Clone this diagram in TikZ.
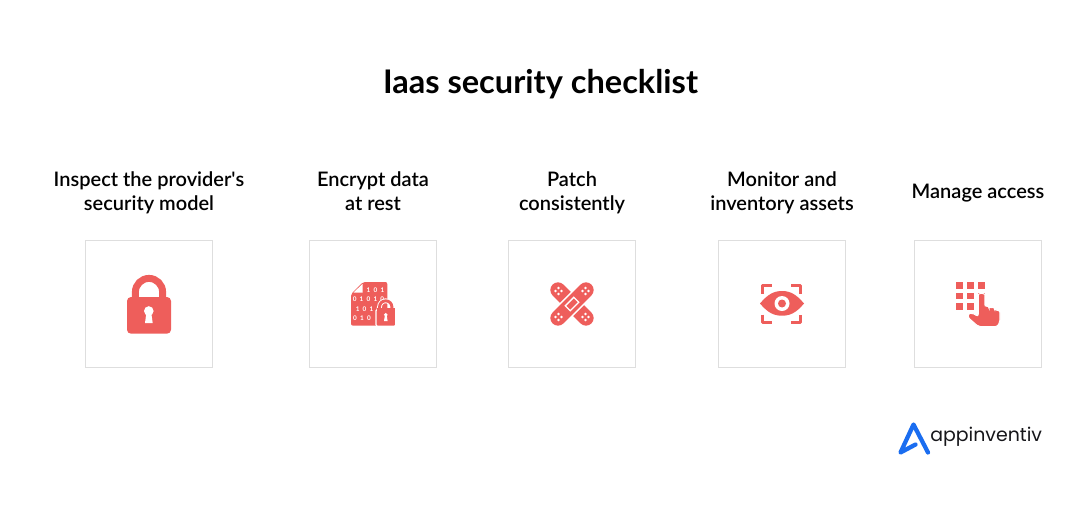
\documentclass[tikz,border=0pt]{standalone}
\usepackage{fontspec}
\setmainfont{Lato}
\newfontfamily\labelfont{Lato Semibold}
\newfontfamily\logofont{Poppins}
\definecolor{iconred}{HTML}{EE5E5B}
\definecolor{boxgray}{HTML}{DEDEDE}
\definecolor{logoblue}{HTML}{1A6DF0}
\definecolor{logoink}{HTML}{16161A}
\tikzset{
  itembox/.style={draw=boxgray,line width=0.75pt,minimum size=95.25pt,inner sep=0pt},
  itemlabel/.style={align=center,font=\labelfont\fontsize{15}{18}\selectfont,text=black,inner sep=0pt},
  bit/.style={text=white,font=\fontsize{4.8}{5}\selectfont\bfseries,inner sep=0pt},
  pad/.style={line width=11.5pt,line cap=round},
}
\newcommand{\paddots}[2]{%
  \fill[white] (#1-3,#2) circle (1.3) (#1+3,#2) circle (1.3)
    (#1,#2-3) circle (1.3) (#1,#2+3) circle (1.3);}
\begin{document}
\begin{tikzpicture}[x=0.75pt,y=-0.75pt]
  \useasboundingbox (0,0) rectangle (1080,514);
  \node[font=\fontsize{24.4}{28}\selectfont\bfseries] (title) at (540.5,84.5) {Iaas security checklist};
  % boxes
  \node[itembox] (box1) at (149,304) {};
  \node[itembox] (box2) at (373,304) {};
  \node[itembox] (box3) at (572,304) {};
  \node[itembox] (box4) at (782,304) {};
  \node[itembox] (box5) at (978,304) {};
  % labels
  \node[itemlabel] (lab1) at (149,193) {Inspect the provider\textquotesingle s\\security model};
  \node[itemlabel] (lab2) at (373,191) {Encrypt data\\at rest};
  \node[itemlabel] (lab3) at (572,193) {Patch\\consistently};
  \node[itemlabel] (lab4) at (782,193) {Monitor and\\inventory assets};
  \node[itemlabel] (lab5) at (978,193) {Manage access};
  % padlock
  \draw[iconred,line width=5.2pt] (135.4,300) -- (135.4,292) arc (180:360:13.6) -- (162.6,300);
  \fill[iconred,rounded corners=3pt] (127,297) rectangle (171,333.7);
  \fill[white] (148.8,311) circle (4.8);
  \fill[white] (146.6,311) -- (145,323) -- (152.7,323) -- (151,311) -- cycle;
  % data file
  \fill[iconred,rounded corners=1.5pt] (363,282) -- (387.3,282) -- (387.3,325.7) -- (351,325.7) -- (351,294) -- cycle;
  \fill[white] (362.5,284) -- (362.5,292.5) -- (353.5,292.5) -- cycle;
  \foreach \px/\py/\bits in {375.5/290/1\,\,\,0\,\,\,1, 368.5/299/0\,\,\,1\,\,\,0\,\,\,1\,\,\,0, 368/309/1\,\,\,0\,\,\,1\,\,\,0, 362/318.5/0\,\,\,1\,\,\,0}
    \node[bit] at (\px,\py) {\bits};
  \draw[white,line width=3.6pt] (379.5,311) -- (379.5,307) arc (180:360:6.2) -- (391.9,311);
  \draw[iconred,line width=2.2pt] (379.5,311) -- (379.5,307) arc (180:360:6.2) -- (391.9,311);
  \draw[white,line width=0.9pt,fill=iconred,rounded corners=1pt] (376,326.2) -- (376,309.5) -- (395.8,309.5) -- (395.8,326.2) -- cycle;
  \fill[iconred] (377,308) rectangle (394.8,311);
  \fill[white] (385.8,314.8) circle (1.9);
  \fill[white] (385,314.8) -- (384,321) -- (387.6,321) -- (386.6,314.8) -- cycle;
  % bandages
  \draw[iconred,pad] (558,290) -- (586,318);
  \draw[white,line width=14pt] (564,312) -- (580,296);
  \draw[iconred,pad] (558,318) -- (586,290);
  \paddots{558.5}{291}
  \paddots{585.5}{291}
  \paddots{558.5}{317}
  \paddots{585.5}{317}
  \draw[white,line width=1pt,rotate around={45:(572,304)}] (566,300.5) rectangle (578,307.5);
  % eye
  \fill[iconred] (760,303.5) .. controls (768,294) and (774,291) .. (782,291) .. controls (790,291) and (796,294) .. (804,303.5) .. controls (796,313) and (790,315.7) .. (782,315.7) .. controls (774,315.7) and (768,313) .. (760,303.5) -- cycle;
  \fill[white] (782,303.5) circle (7.5);
  \fill[iconred] (782,303.5) circle (4);
  \draw[iconred,line width=2.6pt,line join=round]
    (762.3,293.5) -- (762.3,285.7) -- (772,285.7)
    (791,285.7) -- (800.5,285.7) -- (800.5,293.5)
    (762.3,314.5) -- (762.3,322.7) -- (772,322.7)
    (791,322.7) -- (800.5,322.7) -- (800.5,314.5);
  % keypad and hand
  \foreach \px in {956,967,978}
    \foreach \py in {282,292.5,303}
      \fill[iconred] (\px,\py) rectangle ++(6.5,6.5);
  \fill[white] (977,302.5) rectangle ++(9,8);
  \draw[white,line width=0.8pt,fill=iconred,rounded corners=1.6pt]
    (978.2,312) -- (978.2,296.5) arc (180:360:3.3) -- (984.8,306.5) -- (989,306) -- (989,308)
    -- (994.5,307) -- (994.5,310) -- (1000,310.5) -- (1000,322) -- (997,326.7)
    -- (978.5,326.7) -- (968,317.5) -- (968.5,313.5) -- (972,312.8) -- (978.2,316.5) -- cycle;
  % logo
  \draw[logoblue,line width=3.2pt,line cap=round,line join=round]
    (915.5,444.5) -- (900.5,452.5) -- (913.5,424.5) -- (928,452.5);
  \node[font=\logofont\fontsize{14.2}{18}\selectfont,text=logoink,inner sep=0pt,anchor=west] (brand) at (930,437) {appinventiv};
\end{tikzpicture}
\end{document}
